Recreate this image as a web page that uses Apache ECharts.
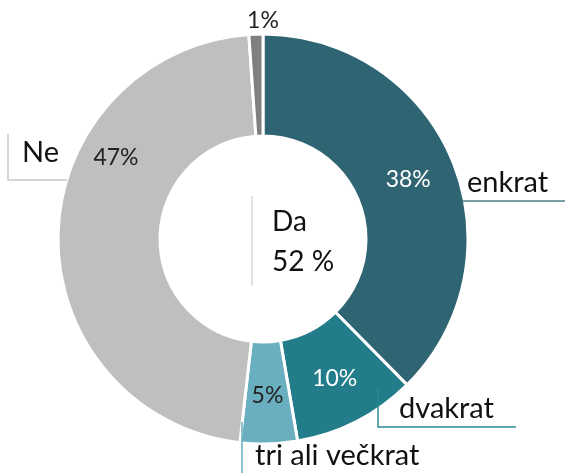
<!DOCTYPE html>
<html>
<head>
<meta charset="utf-8">
<script src="https://cdn.jsdelivr.net/npm/echarts@6/dist/echarts.min.js"></script>
<style>
  html, body { margin: 0; padding: 0; background: #fff; }
  #chart { width: 565px; height: 473px; }
</style>
</head>
<body>
<div id="chart"></div>
<script>
// podatki
var names = ['enkrat', 'dvakrat', 'tri ali večkrat', 'Ne', '']
var values = [37.6, 9.7, 4.5, 47.1, 1.1]
var pctLabels = ['38%', '10%', '5%', '47%', '1%']
var daLabel = 'Da'
var daIdx = [0, 1, 2]

var colors = ['#2f6472', '#237c89', '#6aafc0', '#bfbfbf', '#7f7f7f']
var pctColors = ['#fff', '#fff', '#222', '#222', '#222']
var lineColors = ['#4f7c89', '#2a8a94', '#6aafc0', '#c8c8c8', '#fff']

var daSum = 0
for (var i = 0; i < daIdx.length; i++) daSum += values[daIdx[i]]

var font = 'Lato, "Open Sans", sans-serif'

// polozaji oznak (label layout)
var pctPos = { 3: [116, 158], 4: [263, 21] }
var namePos = [[467, 183], [399, 409], [255, 456], [22, 153], [0, 0]]
var nameLines = [
  [[463, 201], [565, 201]],
  [[378, 389], [378, 427], [516, 427]],
  [[242, 422], [242, 473]],
  [[67, 180], [8, 180], [8, 134]],
  null
]

var chart = echarts.init(document.getElementById('chart'))

var mainData = [], nameData = []
for (var i = 0; i < values.length; i++) {
  mainData.push({
    name: names[i] || 'x',
    value: values[i],
    itemStyle: { color: colors[i] },
    label: { color: pctColors[i], formatter: pctLabels[i] }
  })
  nameData.push({
    name: names[i],
    value: values[i],
    label: { show: !!names[i] },
    labelLine: { show: !!names[i], lineStyle: { color: lineColors[i] } }
  })
}

var option = {
  animation: false,
  series: [
    {
      type: 'pie',
      center: [263, 239],
      radius: [103, 205],
      startAngle: 90,
      silent: true,
      itemStyle: { borderColor: '#fff', borderWidth: 3 },
      label: {
        show: true,
        position: 'inside',
        fontFamily: font,
        fontSize: 23,
        overflow: 'none'
      },
      labelLine: { show: false },
      labelLayout: function (p) {
        var pos = pctPos[p.dataIndex]
        if (pos) return { x: pos[0], y: pos[1], align: 'center', verticalAlign: 'middle' }
        return {}
      },
      data: mainData
    },
    {
      type: 'pie',
      center: [263, 239],
      radius: [103, 205],
      startAngle: 90,
      silent: true,
      z: 3,
      itemStyle: { color: 'rgba(0,0,0,0)', borderWidth: 0 },
      label: {
        position: 'outside',
        fontFamily: font,
        fontSize: 29,
        color: '#111',
        overflow: 'none',
        formatter: '{b}'
      },
      labelLine: { lineStyle: { width: 1.5 } },
      labelLayout: function (p) {
        var i = p.dataIndex
        return {
          x: namePos[i][0],
          y: namePos[i][1],
          align: 'left',
          verticalAlign: 'middle',
          width: 300,
          labelLinePoints: nameLines[i] || undefined
        }
      },
      data: nameData
    }
  ],
  graphic: [
    {
      type: 'line',
      shape: { x1: 252, y1: 196, x2: 252, y2: 286 },
      style: { stroke: '#d9d9d9', lineWidth: 1.5 }
    },
    {
      type: 'text',
      left: 272,
      top: 202,
      style: {
        text: daLabel + '\n' + Math.round(daSum) + ' %',
        fontFamily: font,
        fontSize: 28,
        lineHeight: 40,
        fill: '#111'
      }
    }
  ]
}
chart.setOption(option)
</script>
</body>
</html>
